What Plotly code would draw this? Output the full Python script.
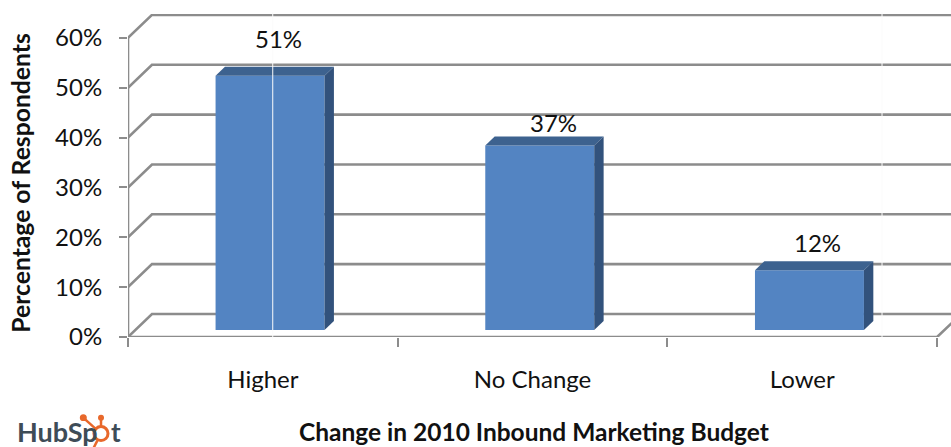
import plotly.graph_objects as go

categories = ["Higher", "No Change", "Lower"]
values = [51, 37, 12]
value_labels = ["51%", "37%", "12%"]
y_ticks = [0, 10, 20, 30, 40, 50, 60]
y_tick_labels = ["0%", "10%", "20%", "30%", "40%", "50%", "60%"]
x_title = "Change in 2010 Inbound Marketing Budget"
y_title = "Percentage of Respondents"

W, H = 951, 447
L, R, T, B = 127.7, 951, 14, 337.3
PX_X = 269.8
PX_Y = 4.99
x_rng = [-0.5, -0.5 + (R - L) / PX_X]
y_rng = [0, (B - T) / PX_Y]
WALL_DX, WALL_DY = 24 / PX_X, 23 / PX_Y
BAR_DX, BAR_DY = 9.4 / PX_X, 9 / PX_Y
BAR_SHIFT, BAR_BASE = 7.2 / PX_X, 1.4
BAR_W = 109 / PX_X
GRID = "#8C8C8C"
FONT = "Lato"
TXT = "#111111"
label_dx = [8, 14, 8.5]
label_dy = [36.8, 22.7, 27.4]

fig = go.Figure()

# Back wall and floor lines
wx, wy = [], []
for t in y_ticks:
    wx += [-0.5, -0.5 + WALL_DX, x_rng[1], None]
    wy += [t, t + WALL_DY, t + WALL_DY, None]
wx += [-0.5, -0.5, None, -0.5, 2.5, 2.5 + WALL_DX]
wy += [0, y_ticks[-1], None, 0, 0, WALL_DY]
fig.add_trace(go.Scatter(x=wx, y=wy, mode="lines", line=dict(color=GRID, width=2.6),
                         hoverinfo="skip", showlegend=False, cliponaxis=False))

# Bars, on an overlaid pair of axes so they sit above the wall lines
xs = [i + BAR_SHIFT for i in range(len(categories))]
fig.add_trace(go.Bar(x=xs, y=values, base=BAR_BASE, width=BAR_W,
                     marker=dict(color="#5384C2", line=dict(width=0)),
                     xaxis="x2", yaxis="y2", showlegend=False))
for x, v in zip(xs, values):
    xl, xr = x - BAR_W / 2, x + BAR_W / 2
    top = v + BAR_BASE
    fig.add_trace(go.Scatter(x=[xl, xr, xr + BAR_DX, xl + BAR_DX, xl],
                             y=[top, top, top + BAR_DY, top + BAR_DY, top],
                             fill="toself", fillcolor="#3D628F", mode="none",
                             xaxis="x2", yaxis="y2", showlegend=False, hoverinfo="skip"))
    fig.add_trace(go.Scatter(x=[xr, xr + BAR_DX, xr + BAR_DX, xr, xr],
                             y=[BAR_BASE, BAR_BASE + BAR_DY, top + BAR_DY, top, BAR_BASE],
                             fill="toself", fillcolor="#32527C", mode="none",
                             xaxis="x2", yaxis="y2", showlegend=False, hoverinfo="skip"))

ann = []
for x, v, t, dx, dy in zip(xs, values, value_labels, label_dx, label_dy):
    ann.append(dict(x=x, y=v + BAR_BASE, xref="x2", yref="y2", text=t, showarrow=False,
                    xshift=dx, yshift=dy, font=dict(family=FONT, size=24, color=TXT)))


def sx(x):
    return (x - L) / (R - L)


def py(y):
    return (B - y) / (B - T)


ann += [
    dict(x=sx(533.5), y=py(432), xref="paper", yref="paper", text=f"<b>{x_title}</b>", showarrow=False,
         xanchor="center", yanchor="middle", font=dict(family=FONT, size=24.5, color=TXT)),
    dict(x=sx(20), y=py(182.5), xref="paper", yref="paper", text=f"<b>{y_title}</b>", showarrow=False,
         xanchor="center", yanchor="middle", textangle=-90, font=dict(family=FONT, size=24.7, color=TXT)),
    dict(x=sx(15), y=py(432), xref="paper", yref="paper", text="<b>HubSp</b>", showarrow=False,
         xanchor="left", yanchor="middle", font=dict(family=FONT, size=27, color="#3E4C57")),
    dict(x=sx(109), y=py(432), xref="paper", yref="paper", text="<b>t</b>", showarrow=False,
         xanchor="left", yanchor="middle", font=dict(family=FONT, size=26, color="#3E4C57")),
]

ORANGE = "#E8682B"
shapes = []
for x0, y0, x1, y1 in [(100.7, 434, 84, 419), (100.7, 434, 100.7, 418), (97, 441, 93, 449)]:
    shapes.append(dict(type="line", xref="paper", yref="paper", x0=sx(x0), y0=py(y0), x1=sx(x1), y1=py(y1),
                       line=dict(color=ORANGE, width=2.5)))
for cx, cy, r, fill in [(83, 418, 3.5, ORANGE), (100.7, 418, 3, ORANGE), (100.7, 434, 7, "white")]:
    shapes.append(dict(type="circle", xref="paper", yref="paper", x0=sx(cx - r), x1=sx(cx + r),
                       y0=py(cy + r), y1=py(cy - r), fillcolor=fill,
                       line=dict(color=ORANGE, width=3 if fill == "white" else 0)))
# Thin pale seams in the picture
for seam in (272.5, 882):
    shapes.append(dict(type="line", xref="paper", yref="paper", x0=sx(seam), x1=sx(seam), y0=py(12), y1=py(340),
                       line=dict(color="#FBFBFB", width=1)))

fig.update_layout(
    width=W, height=H, autosize=False,
    margin=dict(l=L, r=W - R, t=T, b=H - B, pad=0),
    paper_bgcolor="white", plot_bgcolor="white",
    font=dict(family=FONT, size=24, color=TXT),
    annotations=ann, shapes=shapes,
    xaxis=dict(range=x_rng, tickvals=list(range(len(categories))), ticktext=categories,
               ticks="", showgrid=False, zeroline=False, showline=False,
               ticklabelstandoff=26, tickfont=dict(family=FONT, size=24, color=TXT)),
    yaxis=dict(range=y_rng, tickvals=y_ticks, ticktext=y_tick_labels, ticks="outside",
               ticklen=8, tickwidth=2.4, tickcolor=GRID, showgrid=False, zeroline=False, showline=False,
               ticklabelstandoff=12, tickfont=dict(family=FONT, size=24, color=TXT)),
    xaxis2=dict(range=x_rng, overlaying="x", anchor="y2", side="bottom",
                tickvals=[-0.5, 0.5, 1.5, 2.5], showticklabels=False, ticks="outside",
                ticklen=9, tickwidth=2, tickcolor=GRID, showgrid=False, zeroline=False, showline=False),
    yaxis2=dict(range=y_rng, overlaying="y", anchor="x2", showticklabels=False, ticks="",
                showgrid=False, zeroline=False, showline=False),
)
fig.write_html("out.html", config=dict(displayModeBar=False),
               post_script="document.body.style.margin='0';")
